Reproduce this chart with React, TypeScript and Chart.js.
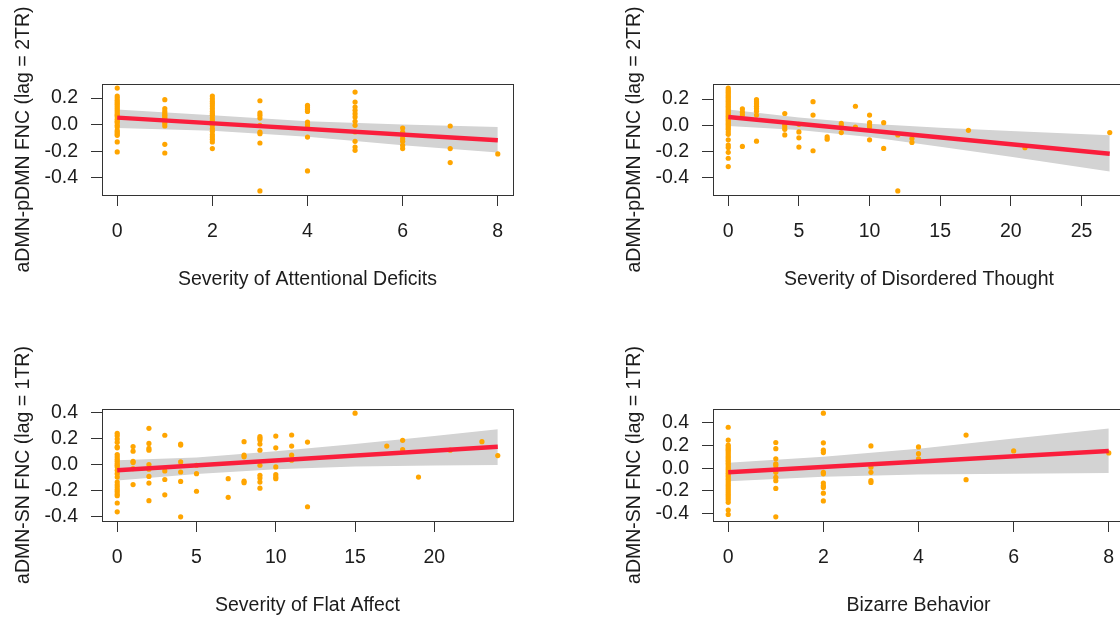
import React, { useEffect, useRef } from "react";
import { Chart, registerables } from "chart.js";

Chart.register(...registerables);

// ---------- Panel 1: Attentional Deficits (aDMN-pDMN, lag 2TR) ----------
const attnTitleX = "Severity of Attentional Deficits";
const attnTitleY = "aDMN-pDMN FNC (lag = 2TR)";
const attnLevels = [0, 1, 2, 3, 4, 5, 6, 7, 8];
const attnValues = [
  [0.275, 0.215, 0.2, 0.183, 0.17, 0.158, 0.145, 0.13, 0.115, 0.1, 0.083, 0.07, 0.058, 0.04, 0.025, 0.015, -0.005, -0.018, -0.043, -0.055, -0.068, -0.08, -0.13, -0.205],
  [0.188, 0.12, 0.1, 0.083, 0.07, 0.058, 0.045, 0.025, 0.008, -0.01, -0.148, -0.213],
  [0.215, 0.195, 0.175, 0.158, 0.14, 0.12, 0.1, 0.083, 0.07, 0.05, 0.033, 0.015, -0.005, -0.03, -0.05, -0.075, -0.093, -0.11, -0.13, -0.18],
  [0.18, 0.088, 0.07, 0.05, -0.005, -0.055, -0.068, -0.138, -0.498],
  [0.145, 0.133, 0.115, 0.1, 0.02, 0.0, -0.018, -0.093, -0.348],
  [0.245, 0.17, 0.133, 0.108, 0.083, 0.058, 0.025, -0.005, -0.055, -0.125, -0.168, -0.193],
  [-0.025, -0.055, -0.08, -0.105, -0.125, -0.155, -0.18],
  [-0.01, -0.18, -0.285],
  [-0.22],
];
const attnFitX = [0, 8];
const attnFitY = [0.053, -0.118];
const attnBandX = [0, 2, 4, 6, 8];
const attnBandUpper = [0.115, 0.07, 0.025, 0.002, -0.018];
const attnBandLower = [-0.025, -0.045, -0.09, -0.155, -0.21];
const attnXTicks = [0, 2, 4, 6, 8];
const attnYTicks = [-0.4, -0.2, 0.0, 0.2];

// ---------- Panel 2: Disordered Thought (aDMN-pDMN, lag 2TR) ----------
const thoughtTitleX = "Severity of Disordered Thought";
const thoughtTitleY = "aDMN-pDMN FNC (lag = 2TR)";
const thoughtLevels = [0, 1, 2, 4, 5, 6, 7, 8, 9, 10, 11, 12, 13, 17, 21, 27];
const thoughtValues = [
  [0.283, 0.27, 0.258, 0.245, 0.233, 0.22, 0.208, 0.195, 0.183, 0.17, 0.158, 0.145, 0.133, 0.12, 0.108, 0.095, 0.083, 0.07, 0.058, 0.045, 0.033, 0.02, 0.008, -0.005, -0.018, -0.03, -0.05, -0.068, -0.11, -0.15, -0.168, -0.205, -0.25, -0.313],
  [0.125, 0.1, 0.078, -0.16],
  [0.195, 0.178, 0.163, 0.145, 0.128, 0.108, 0.078, -0.12],
  [0.09, 0.008, -0.01, -0.03, -0.073],
  [0.008, -0.05, -0.095, -0.165],
  [0.18, 0.078, -0.193],
  [-0.088, -0.105],
  [0.015, -0.005, -0.055],
  [0.145, -0.013],
  [0.078, 0.02, 0.003, -0.013, -0.11],
  [0.02, -0.175],
  [-0.073, -0.498],
  [-0.1, -0.13],
  [-0.038],
  [-0.17],
  [-0.055],
];
const thoughtFitX = [0, 27];
const thoughtFitY = [0.063, -0.215];
const thoughtBandX = [0, 5, 10, 15, 20, 27];
const thoughtBandUpper = [0.12, 0.06, 0.012, -0.018, -0.042, -0.075];
const thoughtBandLower = [-0.005, -0.035, -0.088, -0.162, -0.238, -0.35];
const thoughtXTicks = [0, 5, 10, 15, 20, 25];
const thoughtYTicks = [-0.4, -0.2, 0.0, 0.2];

// ---------- Panel 3: Flat Affect (aDMN-SN, lag 1TR) ----------
const flatTitleX = "Severity of Flat Affect";
const flatTitleY = "aDMN-SN FNC (lag = 1TR)";
const flatLevels = [0, 1, 2, 3, 4, 5, 7, 8, 9, 10, 11, 12, 15, 17, 18, 19, 21, 23, 24];
const flatValues = [
  [0.242, 0.224, 0.198, 0.172, 0.138, 0.13, 0.078, 0.06, 0.042, 0.026, 0.008, -0.005, -0.018, -0.044, -0.07, -0.096, -0.135, -0.156, -0.174, -0.193, -0.208, -0.227, -0.24, -0.297, -0.365],
  [0.14, 0.104, 0.026, 0.016, -0.031, -0.154],
  [0.281, 0.164, 0.125, 0.112, 0.0, -0.036, -0.091, -0.143, -0.279],
  [0.227, -0.049, -0.115, -0.234],
  [0.159, 0.151, 0.021, -0.057, -0.13, -0.404],
  [-0.005, -0.07, -0.206],
  [-0.109, -0.253],
  [0.177, 0.073, 0.06, -0.128, -0.14],
  [0.216, 0.203, 0.19, 0.159, 0.112, -0.005, -0.083, -0.104, -0.135, -0.182],
  [0.221, 0.13, -0.018, -0.078, -0.096, -0.109],
  [0.229, 0.143, 0.073, 0.034],
  [0.174, -0.326],
  [0.398],
  [0.143],
  [0.188, 0.117],
  [-0.096],
  [0.112],
  [0.177],
  [0.07],
];
const flatFitX = [0, 24];
const flatFitY = [-0.044, 0.138];
const flatBandX = [0, 5, 10, 15, 20, 24];
const flatBandUpper = [0.034, 0.055, 0.103, 0.16, 0.222, 0.273];
const flatBandLower = [-0.122, -0.072, -0.035, -0.014, -0.006, -0.003];
const flatXTicks = [0, 5, 10, 15, 20];
const flatYTicks = [-0.4, -0.2, 0.0, 0.2, 0.4];

// ---------- Panel 4: Bizarre Behavior (aDMN-SN, lag 1TR) ----------
const bizTitleX = "Bizarre Behavior";
const bizTitleY = "aDMN-SN FNC (lag = 1TR)";
const bizLevels = [0, 1, 2, 3, 4, 5, 6, 8];
const bizValues = [
  [0.36, 0.247, 0.202, 0.187, 0.172, 0.158, 0.142, 0.125, 0.108, 0.092, 0.075, 0.06, 0.043, 0.027, 0.01, -0.006, -0.022, -0.04, -0.055, -0.072, -0.09, -0.105, -0.122, -0.14, -0.155, -0.172, -0.19, -0.208, -0.225, -0.242, -0.26, -0.278, -0.3, -0.368, -0.407],
  [0.226, 0.172, 0.083, 0.039, 0.024, -0.006, -0.036, -0.08, -0.11, -0.178, -0.428],
  [0.484, 0.223, 0.158, 0.137, -0.036, -0.05, -0.131, -0.155, -0.169, -0.22, -0.288],
  [0.196, 0.009, -0.036, -0.11, -0.125],
  [0.187, 0.128, 0.083],
  [0.291, -0.101],
  [0.152],
  [0.134],
];
const bizFitX = [0, 8];
const bizFitY = [-0.036, 0.152];
const bizBandX = [0, 2, 4, 6, 8];
const bizBandUpper = [0.048, 0.1, 0.17, 0.26, 0.35];
const bizBandLower = [-0.115, -0.075, -0.055, -0.048, -0.042];
const bizXTicks = [0, 2, 4, 6, 8];
const bizYTicks = [-0.4, -0.2, 0.0, 0.2, 0.4];

// ---------- Styling ----------
const FAMILY = "'Liberation Sans', Arial, Helvetica, sans-serif";
const FONT_SIZE = 19.5;
const TEXT = "#1c1c1c";
const ORANGE = "#FFA500";
const RED = "#FA1E3C";
const BAND = "#D3D3D3";
const AXIS = "#333333";

type Spec = {
  titleX: string;
  titleY: string;
  levels: number[];
  values: number[][];
  fitX: number[];
  fitY: number[];
  bandX: number[];
  bandUpper: number[];
  bandLower: number[];
  xTicks: number[];
  yTicks: number[];
  pos: { left: number; top: number; w: number; h: number };
  area: { left: number; top: number; right: number; bottom: number };
};

const panels: Spec[] = [
  {
    titleX: attnTitleX, titleY: attnTitleY, levels: attnLevels, values: attnValues,
    fitX: attnFitX, fitY: attnFitY, bandX: attnBandX, bandUpper: attnBandUpper, bandLower: attnBandLower,
    xTicks: attnXTicks, yTicks: attnYTicks,
    pos: { left: 0, top: 0, w: 560, h: 310 },
    area: { left: 102, top: 84, right: 513, bottom: 195 },
  },
  {
    titleX: thoughtTitleX, titleY: thoughtTitleY, levels: thoughtLevels, values: thoughtValues,
    fitX: thoughtFitX, fitY: thoughtFitY, bandX: thoughtBandX, bandUpper: thoughtBandUpper, bandLower: thoughtBandLower,
    xTicks: thoughtXTicks, yTicks: thoughtYTicks,
    pos: { left: 560, top: 0, w: 570, h: 310 },
    area: { left: 153, top: 84, right: 565, bottom: 195 },
  },
  {
    titleX: flatTitleX, titleY: flatTitleY, levels: flatLevels, values: flatValues,
    fitX: flatFitX, fitY: flatFitY, bandX: flatBandX, bandUpper: flatBandUpper, bandLower: flatBandLower,
    xTicks: flatXTicks, yTicks: flatYTicks,
    pos: { left: 0, top: 310, w: 560, h: 310 },
    area: { left: 102, top: 99, right: 513, bottom: 211 },
  },
  {
    titleX: bizTitleX, titleY: bizTitleY, levels: bizLevels, values: bizValues,
    fitX: bizFitX, fitY: bizFitY, bandX: bizBandX, bandUpper: bizBandUpper, bandLower: bizBandLower,
    xTicks: bizXTicks, yTicks: bizYTicks,
    pos: { left: 560, top: 310, w: 570, h: 310 },
    area: { left: 153, top: 99, right: 564, bottom: 211 },
  },
];

function rRange(vals: number[]): [number, number] {
  const lo = Math.min(...vals);
  const hi = Math.max(...vals);
  const d = (hi - lo) * 0.04;
  return [lo - d, hi + d];
}

function Panel({ spec }: { spec: Spec }) {
  const ref = useRef<HTMLCanvasElement>(null);

  useEffect(() => {
    const canvas = ref.current;
    if (!canvas) return;
    const { pos, area } = spec;
    const points = spec.levels.flatMap((lv, i) => spec.values[i].map((v) => ({ x: lv, y: v })));
    const [xmin, xmax] = rRange(points.map((p) => p.x));
    const [ymin, ymax] = rRange(points.map((p) => p.y));
    const font = { family: FAMILY, size: FONT_SIZE };
    const lh = FONT_SIZE * 1.2;

    const boxPlugin = {
      id: "rbox",
      afterDatasetsDraw(chart: any) {
        const { ctx, chartArea: a } = chart;
        ctx.save();
        ctx.strokeStyle = AXIS;
        ctx.lineWidth = 1;
        ctx.strokeRect(Math.round(a.left) + 0.5, Math.round(a.top) + 0.5, Math.round(a.right - a.left), Math.round(a.bottom - a.top));
        ctx.restore();
      },
    };
    const yTitlePlugin = {
      id: "ytitle",
      afterDraw(chart: any) {
        const { ctx, chartArea: a } = chart;
        ctx.save();
        ctx.translate(a.left - 78.5, (a.top + a.bottom) / 2);
        ctx.rotate(-Math.PI / 2);
        ctx.font = `${FONT_SIZE}px ${FAMILY}`;
        ctx.fillStyle = TEXT;
        ctx.textAlign = "center";
        ctx.textBaseline = "middle";
        ctx.fillText(spec.titleY, 0, 0);
        ctx.restore();
      },
    };

    const chart = new Chart(canvas, {
      type: "scatter",
      data: {
        datasets: [
          {
            type: "line",
            data: spec.bandX.map((x, i) => ({ x, y: spec.bandUpper[i] })),
            borderWidth: 0,
            borderColor: "rgba(0,0,0,0)",
            pointRadius: 0,
            backgroundColor: BAND,
            fill: "+1",
            order: 3,
          },
          {
            type: "line",
            data: spec.bandX.map((x, i) => ({ x, y: spec.bandLower[i] })),
            borderWidth: 0,
            borderColor: "rgba(0,0,0,0)",
            pointRadius: 0,
            fill: false,
            order: 3,
          },
          {
            type: "scatter",
            data: points,
            pointRadius: 2.6,
            pointBorderWidth: 0,
            borderWidth: 0,
            backgroundColor: ORANGE,
            pointBackgroundColor: ORANGE,
            order: 2,
          },
          {
            type: "line",
            data: spec.fitX.map((x, i) => ({ x, y: spec.fitY[i] })),
            borderColor: RED,
            borderWidth: 4.5,
            pointRadius: 0,
            fill: false,
            order: 1,
          },
        ] as any,
      },
      options: {
        responsive: false,
        animation: false,
        events: [],
        layout: { padding: { left: 0, top: area.top, right: pos.w - area.right, bottom: 0 } },
        plugins: { legend: { display: false }, tooltip: { enabled: false } },
        scales: {
          x: {
            type: "linear",
            min: xmin,
            max: xmax,
            afterBuildTicks: (s: any) => {
              s.ticks = spec.xTicks.map((v) => ({ value: v }));
            },
            afterFit: (s: any) => {
              s.height = pos.h - area.bottom;
            },
            ticks: {
              font,
              color: TEXT,
              padding: 14,
              autoSkip: false,
              maxRotation: 0,
              callback: (v: any) => String(v),
            },
            grid: { drawOnChartArea: false, drawTicks: true, tickLength: 11, color: AXIS, lineWidth: 1 },
            border: { display: false },
            title: {
              display: true,
              text: spec.titleX,
              font,
              color: TEXT,
              padding: { top: 0, bottom: pos.h - lh / 2 - area.bottom - 84.5 },
            },
          },
          y: {
            type: "linear",
            min: ymin,
            max: ymax,
            afterBuildTicks: (s: any) => {
              s.ticks = spec.yTicks.map((v) => ({ value: v }));
            },
            afterFit: (s: any) => {
              s.width = area.left;
            },
            ticks: {
              font,
              color: TEXT,
              padding: 13,
              autoSkip: false,
              callback: (v: any) => Number(v).toFixed(1),
            },
            grid: { drawOnChartArea: false, drawTicks: true, tickLength: 11, color: AXIS, lineWidth: 1 },
            border: { display: false },
          },
        },
      } as any,
      plugins: [boxPlugin, yTitlePlugin],
    });
    return () => chart.destroy();
  }, [spec]);

  return (
    <canvas
      ref={ref}
      width={spec.pos.w}
      height={spec.pos.h}
      style={{ position: "absolute", left: spec.pos.left, top: spec.pos.top, width: spec.pos.w, height: spec.pos.h }}
    />
  );
}

export default function App() {
  return (
    <div
      style={{
        position: "fixed",
        left: 0,
        top: 0,
        width: 1120,
        height: 620,
        overflow: "hidden",
        background: "#ffffff",
      }}
    >
      {panels.map((p, i) => (
        <Panel key={i} spec={p} />
      ))}
    </div>
  );
}
